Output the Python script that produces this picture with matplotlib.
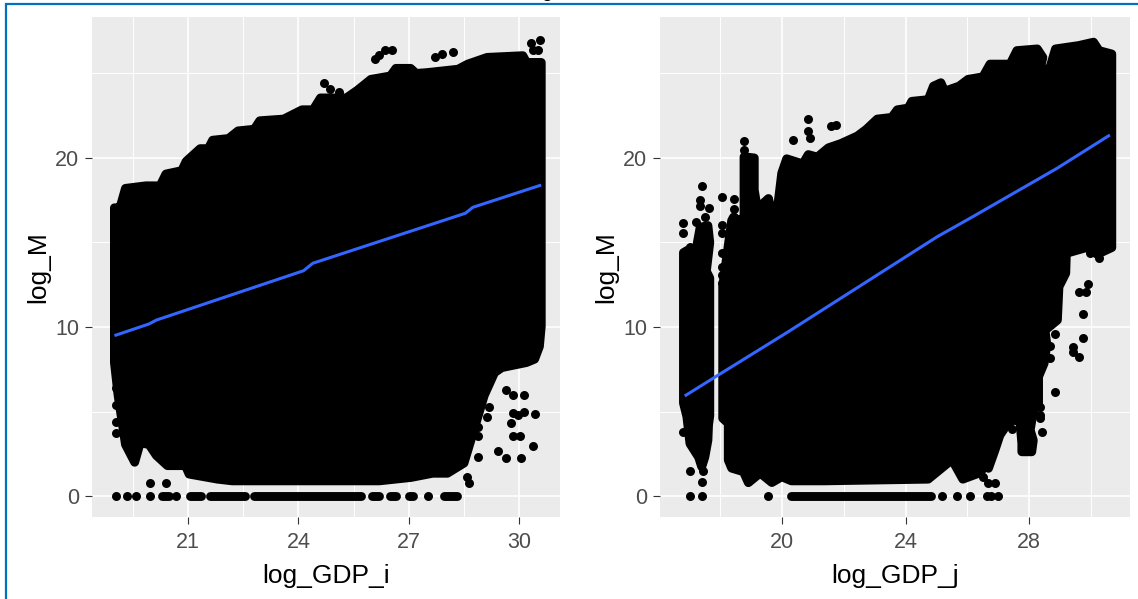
import matplotlib
matplotlib.use('Agg')
import matplotlib.pyplot as plt

plt.rcParams['font.family'] = ['Liberation Sans', 'DejaVu Sans']

# left panel: outline of the solid mass of points
top_x_i = [19.0, 19.15, 19.3, 19.85, 20.24, 20.4, 20.83, 20.95, 21.33, 21.55, 21.67, 22.1, 22.36, 22.8, 22.95,
           23.6, 24.1, 24.4, 24.6, 25.3, 25.6, 25.97, 26.5, 26.65, 27.05, 27.2, 27.5, 28.34, 28.6, 29.13, 30.1,
           30.2, 30.6]
top_y_i = [17.05, 17.05, 18.2, 18.35, 18.35, 19.05, 19.25, 19.8, 20.55, 20.55, 21.05, 21.15, 21.6, 21.7, 22.2,
           22.3, 22.85, 22.85, 23.55, 23.55, 24.0, 24.65, 24.85, 25.3, 25.3, 25.0, 25.05, 25.25, 25.55, 25.95,
           26.05, 25.65, 25.65]
low_x_i = [19.0, 19.1, 19.3, 19.55, 19.7, 19.94, 20.14, 20.44, 20.93, 21.03, 21.8, 22.2, 26.2, 27.06, 27.65,
           28.05, 28.5, 28.75, 29.05, 29.33, 29.53, 30.2, 30.42, 30.55, 30.6]
low_y_i = [7.9, 5.95, 3.05, 2.0, 3.15, 3.05, 2.4, 1.8, 1.8, 1.3, 1.0, 0.9, 0.9, 1.1, 1.35,
           1.35, 1.95, 3.75, 5.95, 7.3, 7.6, 7.9, 8.1, 8.85, 10.05]

# left panel: points standing clear of the mass
pts_x_i = [26.07, 26.2, 26.35, 26.55, 27.7, 27.9, 28.2, 30.32, 30.57, 30.52, 30.37, 24.7, 24.87, 25.1,
           19.05, 19.05, 19.05, 19.05, 19.97, 20.39, 28.89, 29.43, 29.63, 30.04, 30.37, 30.42, 29.97, 29.82,
           30.12, 29.77, 29.82, 30.02, 29.63, 29.82, 30.12, 28.64, 28.59, 29.18, 29.13, 28.89, 28.89]
pts_y_i = [25.84, 26.1, 26.39, 26.39, 26.0, 26.15, 26.25, 26.8, 27.0, 26.4, 26.4, 24.46, 24.1, 23.9,
           4.4, 3.75, 5.4, 6.4, 0.8, 0.8, 2.33, 2.68, 2.23, 2.23, 2.98, 4.85, 4.8, 4.9,
           5.0, 4.3, 3.55, 3.55, 6.27, 5.98, 5.98, 0.79, 1.14, 5.29, 4.7, 4.1, 3.55]
# points on the zero line: single ones, and unbroken runs
zero_x_i = [19.05, 19.35, 19.58, 19.97, 20.68, 27.53]
run_from_i = [20.29, 21.05, 21.6, 22.8, 26.0, 26.5, 27.0, 27.95]
run_to_i = [20.49, 21.35, 22.55, 25.7, 26.2, 26.65, 27.12, 28.32]

# right panel: column left of the gap and the main mass
side_x_j = [16.81, 17.0, 16.95, 17.2, 17.26, 17.35, 17.6, 17.66, 17.55, 17.66, 17.66, 17.62, 17.6, 17.5, 17.4,
            17.3, 17.02, 16.92, 16.81]
side_y_j = [14.4, 14.6, 13.4, 13.0, 15.0, 15.9, 16.0, 15.0, 13.3, 12.9, 4.75, 4.2, 3.3, 2.3, 1.73,
            2.3, 3.1, 4.7, 5.5]
top_x_j = [18.08, 18.37, 18.43, 18.6, 18.77, 18.77, 19.1, 19.1, 19.2, 19.56, 19.7, 19.85, 19.99, 20.15, 20.67,
           20.85, 21.14, 21.5, 21.9, 22.44, 22.73, 23.08, 23.55, 23.73, 24.08, 24.2, 24.73, 24.9, 25.14, 25.26,
           25.73, 26.02, 26.5, 26.73, 27.38, 27.6, 28.26, 28.44, 28.32, 28.67, 28.85, 29.6, 30.08, 30.26, 30.67]
top_y_j = [12.4, 16.3, 16.5, 16.3, 16.5, 20.07, 20.0, 18.1, 17.0, 17.6, 16.5, 17.0, 19.1, 19.95, 19.65,
           20.2, 20.05, 20.6, 20.85, 21.3, 21.7, 22.3, 22.4, 22.85, 22.95, 23.35, 23.45, 24.25, 24.45, 23.95,
           24.25, 24.65, 24.8, 25.55, 25.55, 26.35, 26.45, 25.95, 25.05, 25.35, 26.45, 26.65, 26.85, 26.35, 26.15]
low_x_j = [18.08, 18.26, 18.26, 18.37, 18.75, 18.91, 19.29, 19.67, 19.99, 20.3, 21.38, 24.73, 25.5, 25.85, 26.44,
           26.57, 26.68, 26.89, 27.05, 27.27, 27.49, 27.7, 27.76, 27.76, 28.08, 28.13, 28.03, 28.13, 28.3, 28.3,
           28.48, 28.57, 28.51, 28.91, 28.96, 29.18, 29.2, 29.85, 30.2, 30.67, 30.67]
low_y_j = [4.6, 4.3, 2.13, 1.65, 1.44, 0.79, 1.36, 0.8, 1.14, 0.9, 0.9, 1.0, 2.15, 1.0, 1.4,
           2.13, 1.64, 2.72, 3.6, 4.2, 4.5, 4.4, 3.12, 2.62, 2.62, 3.3, 3.9, 5.0, 5.5, 7.06,
           7.85, 8.93, 9.8, 10.41, 12.38, 13.18, 14.36, 14.7, 14.3, 14.7, 15.95]

pts_x_j = [20.84, 20.84, 20.9, 20.35, 21.6, 21.73, 18.77, 18.77, 17.4, 17.35, 17.35, 17.64, 17.2, 17.5, 18.05,
           18.05, 18.05, 18.07, 18.07, 18.07, 18.07, 18.43, 18.43, 18.43, 19.56, 16.79, 16.79, 17.02, 16.79, 17.02,
           17.45, 17.4, 28.83, 28.83, 29.73, 29.73, 29.42, 29.42, 29.6, 29.9, 29.6, 29.85, 30.27, 29.97, 27.43,
           28.4, 28.67, 28.67, 28.35, 28.35, 28.35, 26.51, 26.9, 26.68]
pts_y_j = [22.3, 21.6, 21.2, 21.06, 21.9, 21.95, 21.0, 20.5, 18.34, 17.5, 17.15, 17.04, 16.23, 16.53, 17.7,
           16.03, 15.58, 14.4, 13.57, 13.08, 12.6, 17.6, 17.0, 16.5, 17.6, 16.13, 15.58, 14.75, 3.77, 1.46,
           1.46, 0.81, 9.57, 6.17, 10.77, 9.37, 8.8, 8.5, 8.24, 12.54, 12.09, 12.09, 14.06, 14.38, 3.96,
           3.77, 8.9, 8.16, 5.28, 4.79, 4.6, 1.14, 0.8, 0.75]
zero_x_j = [17.02, 17.4, 19.56, 25.16, 25.65, 26.08, 26.63, 26.75, 27.0]
run_from_j = [20.28]
run_to_j = [24.82]

# fitted lines
line_x_i = [19.0, 19.94, 20.14, 24.14, 24.39, 28.54, 28.74, 30.6]
line_y_i = [9.49, 10.18, 10.41, 13.33, 13.77, 16.73, 17.08, 18.4]
line_x_j = [16.85, 17.85, 20.2, 25.02, 26.08, 28.9, 30.61]
line_y_j = [5.92, 7.06, 9.72, 15.34, 16.43, 19.39, 21.36]

W, H = 1138, 599
fig = plt.figure(figsize=(W / 100, H / 100), dpi=100)
fig.patch.set_facecolor('white')


def panel(x0, x1, xlim, major, minor, xlabel):
    ax = fig.add_axes([x0 / W, 1 - 517 / H, (x1 - x0) / W, 500 / H])
    ax.set_facecolor('#EBEBEB')
    for s in ax.spines.values():
        s.set_visible(False)
    ax.set_xlim(xlim)
    ax.set_ylim(-1.24, 28.34)
    ax.set_xticks(major)
    ax.set_xticks(minor, minor=True)
    ax.set_yticks([0, 10, 20])
    ax.set_yticks([5, 15, 25], minor=True)
    ax.grid(True, which='major', color='white', lw=1.2)
    ax.grid(True, which='minor', color='white', lw=0.7)
    ax.set_axisbelow(True)
    ax.tick_params(which='major', length=5, width=0.8, color='#333333', labelcolor='#4D4D4D',
                   labelsize=15.5)
    ax.tick_params(axis='x', which='major', pad=6)
    ax.tick_params(axis='y', which='major', pad=4)
    ax.tick_params(which='minor', length=0)
    ax.set_xlabel(xlabel, fontsize=19, color='black', labelpad=8)
    ax.set_ylabel('log_M', fontsize=19, color='black', labelpad=4)
    return ax


def mass(ax, xs, ys):
    ax.fill(xs, ys, facecolor='black', edgecolor='black', lw=6.4, joinstyle='round')


def dots(ax, xs, ys):
    ax.scatter(xs, ys, s=42, color='black', linewidths=0, clip_on=False)


def zero_runs(ax, starts, ends):
    for a, b in zip(starts, ends):
        ax.plot([a, b], [0, 0], color='black', lw=6.4, solid_capstyle='round')


ax1 = panel(92, 560, (18.39, 31.11), [21, 24, 27, 30], [19.5, 22.5, 25.5, 28.5], 'log_GDP_i')
mass(ax1, top_x_i + low_x_i[::-1], top_y_i + low_y_i[::-1])
dots(ax1, pts_x_i, pts_y_i)
dots(ax1, zero_x_i, [0] * len(zero_x_i))
zero_runs(ax1, run_from_i, run_to_i)
ax1.plot(line_x_i, line_y_i, color='#3366FF', lw=2.2, solid_capstyle='butt')

ax2 = panel(660, 1130, (16.05, 31.26), [20, 24, 28], [18, 22, 26, 30], 'log_GDP_j')
mass(ax2, side_x_j, side_y_j)
mass(ax2, top_x_j + low_x_j[::-1], top_y_j + low_y_j[::-1])
dots(ax2, pts_x_j, pts_y_j)
dots(ax2, zero_x_j, [0] * len(zero_x_j))
zero_runs(ax2, run_from_j, run_to_j)
ax2.plot(line_x_j, line_y_j, color='#3366FF', lw=2.2, solid_capstyle='butt')

# blue frame of the screenshot, and the bit of cut off title above it
fig.add_artist(plt.Line2D([6 / W, 6 / W, 1], [0, 1 - 3.5 / H, 1 - 3.5 / H], color='#0070C0', lw=1.6,
                          solid_joinstyle='miter'))
fig.text(546.5 / W, 1 + 3 / H, 'g', fontsize=14, ha='center', va='baseline', color='black')

fig.savefig('out.png', dpi=100)
